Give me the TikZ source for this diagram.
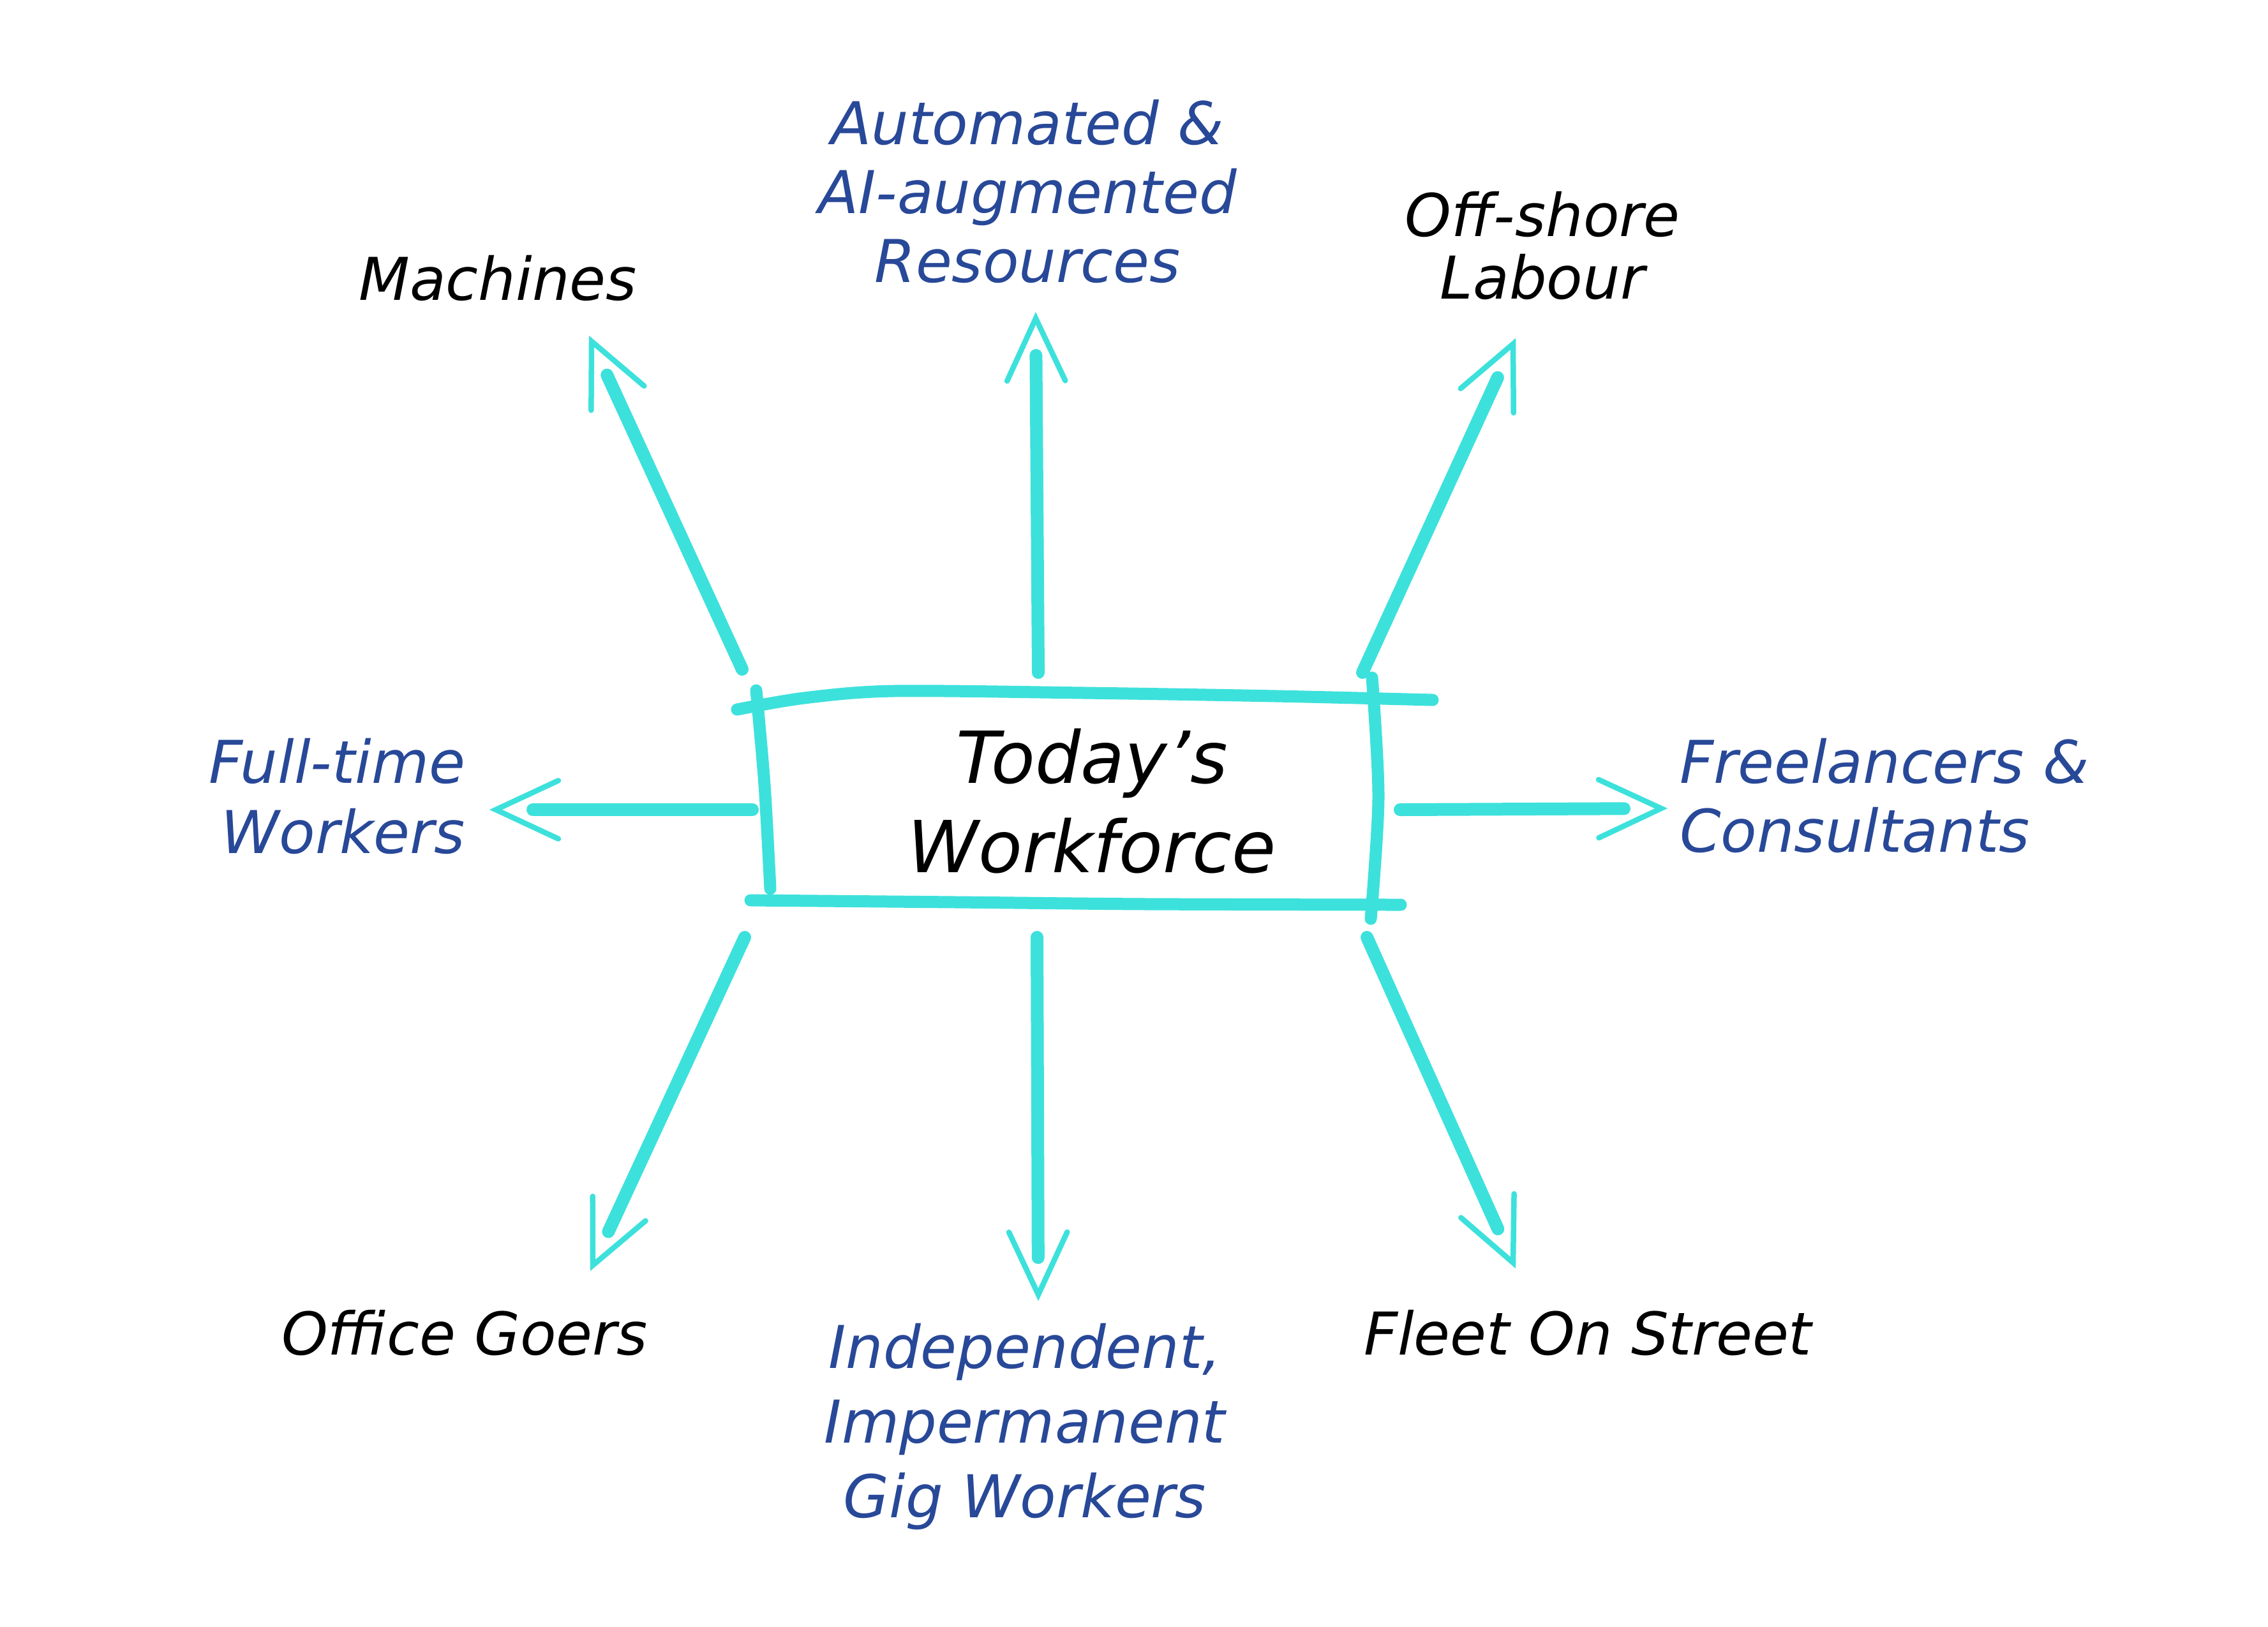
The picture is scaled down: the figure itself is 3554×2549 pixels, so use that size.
\documentclass[tikz,border=0pt]{standalone}
\usepackage{fontspec}
\setmainfont{DejaVu Sans}
\usetikzlibrary{calc}
\definecolor{chalk}{RGB}{61,225,220}
\definecolor{inkblue}{RGB}{40,72,152}
\begin{document}
\begin{tikzpicture}[x=0.2pt,y=-0.2pt,
  shaft/.style={draw=chalk,line width=4pt,line cap=round,shorten >=11.6pt},
  barb/.style={draw=chalk,line width=1.7pt,line cap=round,line join=miter},
  boxline/.style={draw=chalk,line width=3.8pt,line cap=round},
  lbl/.style={font=\fontsize{18.5}{21.6}\selectfont\itshape,inner sep=0pt,anchor=base,align=center},
  blk/.style={lbl,text=black},
  blu/.style={lbl,text=inkblue},
  ttl/.style={font=\fontsize{22.5}{28}\selectfont\itshape,inner sep=0pt,anchor=base,align=center,text=black}
]
\fill[white] (0,0) rectangle (3554,2549);
\useasboundingbox (0,0) rectangle (3554,2549);

% central box (sketched lines)
\draw[boxline] plot[smooth] coordinates {(1155,1112) (1260,1094) (1400,1083) (1700,1086) (2000,1091) (2245,1097)};
\draw[boxline] plot[smooth] coordinates {(1185,1082) (1198,1230) (1207,1393)};
\draw[boxline] plot[smooth] coordinates {(2150,1062) (2160,1250) (2148,1440)};
\draw[boxline] plot[smooth] coordinates {(1176,1411) (1500,1414) (1800,1417) (2195,1418)};
\node[ttl] (center) at (1711,1367) {Today’s\\Workforce};

% labels (base anchor = baseline of the last line)
\node[blk] (machines) at (780,470) {Machines};
\node[blu] (automated) at (1610,442) {Automated \&\\AI-augmented\\Resources};
\node[blk,font=\fontsize{18.5}{19.6}\selectfont\itshape] (offshore) at (2417,468) {Off-shore\\Labour};
\node[blu,anchor=base east,align=right,font=\fontsize{18.5}{22}\selectfont\itshape] (fulltime) at (730,1337) {Full-time\\Workers};
\node[blu,anchor=base west,align=left] (freelance) at (2631,1335) {Freelancers \&\\Consultants};
\node[blk] (office) at (728,2123) {Office Goers};
\node[blu,font=\fontsize{18.5}{23.4}\selectfont\itshape] (gig) at (1606,2378) {Independent,\\Impermanent\\Gig Workers};
\node[blk,anchor=base west] (fleet) at (2136,2123) {Fleet On Street};

% arrow end points
\coordinate (mS) at (1163,1049); \coordinate (mT) at (927,535);
\coordinate (aS) at (1627,1054); \coordinate (aT) at (1623,499);
\coordinate (oS) at (2135,1054); \coordinate (oT) at (2371,539);
\coordinate (fS) at (1179,1269); \coordinate (fT) at (777,1269);
\coordinate (rS) at (2194,1269); \coordinate (rT) at (2603,1267);
\coordinate (gS) at (1167,1469); \coordinate (gT) at (929,1983);
\coordinate (iS) at (1625,1469); \coordinate (iT) at (1627,2029);
\coordinate (sS) at (2142,1469); \coordinate (sT) at (2371,1979);

\foreach \s/\t in {mS/mT,aS/aT,oS/oT,fS/fT,rS/rT,gS/gT,iS/iT,sS/sT}{
  \draw[shaft] (\s) -- (\t);
  \draw[barb] ($(\t)!21.6pt!25:(\s)$) -- (\t) -- ($(\t)!21.6pt!-25:(\s)$);
}
\end{tikzpicture}
\end{document}
